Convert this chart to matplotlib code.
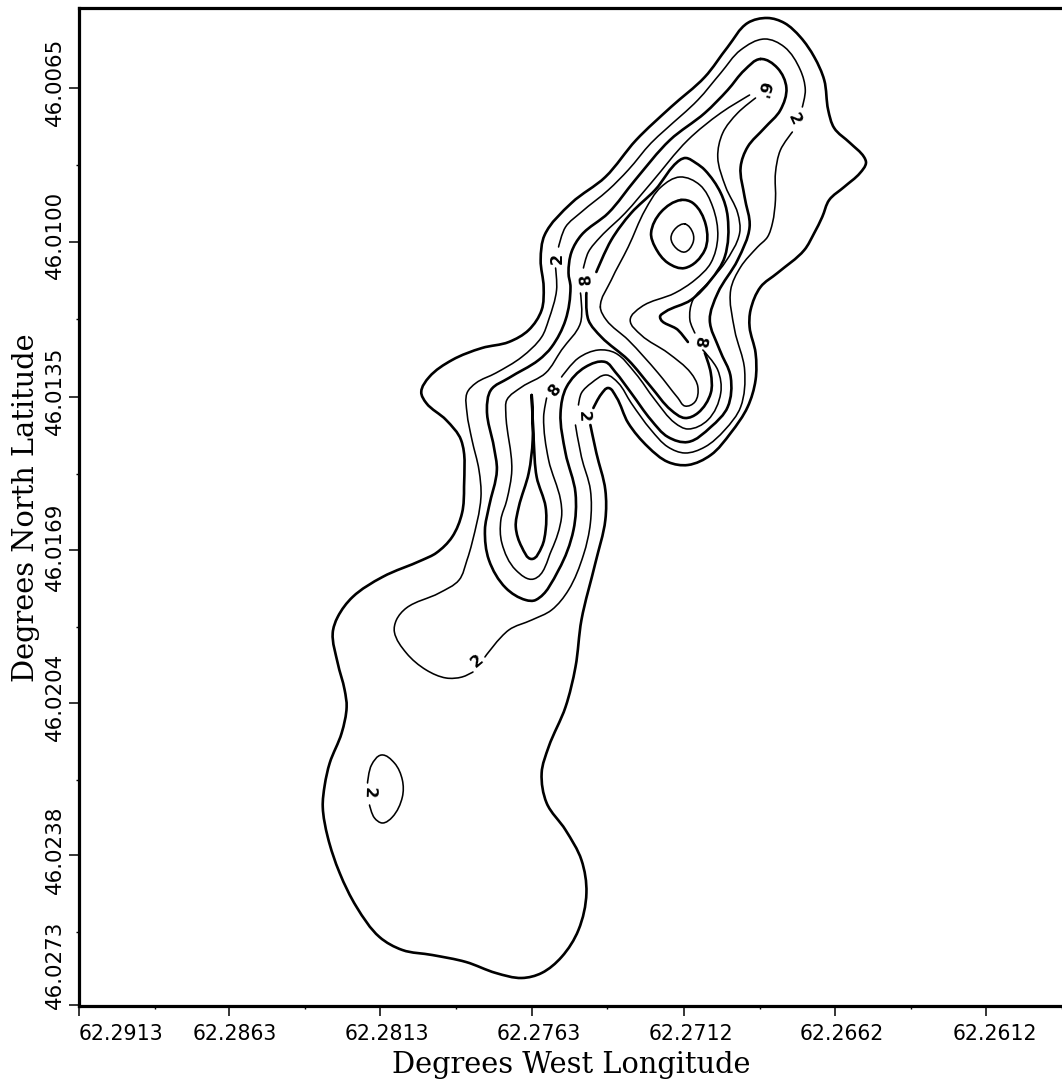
import numpy as np
import matplotlib
matplotlib.use("Agg")
import matplotlib.pyplot as plt
from matplotlib.path import Path
from matplotlib.patches import PathPatch
from matplotlib.transforms import ScaledTranslation

# Tick labels
lon_labels = ["62.2913", "62.2863", "62.2813", "62.2763", "62.2712", "62.2662", "62.2612"]
lat_labels = ["46.0065", "46.0100", "46.0135", "46.0169", "46.0204", "46.0238", "46.0273"]
lon_ticks_sheet = [78, 229, 381, 533, 686, 838, 990]
lat_ticks_sheet = [88, 242, 397, 550, 703, 855, 1005]

outer = [(592,425),(598,453),(607,490),(607,520),(597,563),(583,620),(577,667),(567,707),(550,747),(543,773),(548,803),(567,830),(583,860),(588,893),(580,930),(563,957),(543,973),(523,978),(497,973),(467,962),(433,955),(403,950),(380,937),(357,907),(340,873),(328,837),(323,807),(325,785),(330,763),(342,733),(347,707),(345,690),(338,663),(333,633),(338,617),(353,597),(383,577),(423,560),(437,553),(453,537),(463,513),(465,487),(462,440),(447,420),(427,403),(422,392),(430,377),(453,360),(483,348),(510,342),(530,330),(543,310),(545,287),(542,260),(546,235),(573,203),(607,177),(638,140),(673,107),(707,77),(730,47),(750,23),(770,18),(787,23),(803,37),(817,57),(827,80),(831,110),(837,128),(853,143),(867,157),(869,163),(863,173),(847,187),(832,200),(825,217),(817,233),(807,250),(780,273),(763,287),(753,310),(752,327),(758,353),(758,380),(750,407),(733,433),(713,455),(690,465),(670,462),(650,447),(630,423),(618,397),(610,388),(603,394),(595,408)]
two_a = [(560,247),(567,227),(583,212),(610,190),(630,170),(653,143),(667,130),(700,100),(723,73),(743,50),(767,39),(787,47),(803,70),(808,90),(805,107)]
two_b = [(795,132),(783,150),(778,173),(778,200),(775,223),(770,237),(760,247),(743,267),(733,290),(737,330),(747,370),(743,407),(727,430),(707,447),(687,453),(670,447),(653,430),(633,403),(620,383),(608,375),(593,383),(583,393),(580,405)]
two_c = [(577,425),(583,457),(592,490),(592,523),(585,555),(570,590),(553,610),(533,620),(510,630),(486,657)]
two_d = [(474,672),(463,677),(447,678),(427,670),(407,653),(395,632),(397,620),(407,608),(440,593),(460,580),(468,560),(473,543),(482,497),(480,470),(473,440),(468,413),(468,393),(477,383),(497,373),(523,357),(543,337),(550,320),(558,290),(557,268)]
four = [(763,59),(780,68),(789,88),(783,110),(767,128),(750,147),(743,167),(747,197),(752,227),(740,260),(720,293),(712,320),(722,350),(733,377),(730,407),(713,427),(690,442),(670,437),(653,420),(633,393),(617,372),(607,362),(587,367),(568,387),(562,413),(567,453),(577,493),(575,530),(560,570),(537,600),(527,600),(507,588),(490,560),(486,530),(490,507),(498,470),(495,447),(488,410),(492,390),(510,378),(540,360),(553,347),(567,320),(572,287),(570,273),(573,252),(583,235),(610,213),(637,180),(672,140),(707,113),(730,90),(747,70)]
six_a = [(585,268),(590,252),(602,237),(627,213),(653,183),(690,140),(723,113),(752,95)]
six_b = [(758,98),(740,113),(725,133),(720,157),(728,187),(740,213),(742,233),(727,263),(710,283),(695,300),(692,320),(697,333)]
six_c = [(705,350),(720,370),(723,393),(710,420),(690,429),(677,423),(657,400),(637,373),(617,353),(600,350),(580,358),(563,377)]
six_d = [(548,398),(545,417),(550,460),(562,500),(563,517),(553,550),(535,579),(517,570),(503,543),(502,520),(508,500),(513,470),(507,413),(508,400),(523,387),(547,373),(563,350),(582,323),(582,293)]
eight_a = [(598,272),(613,240),(633,213),(657,190),(682,160),(688,158),(698,163),(707,170),(723,193),(730,217),(727,257),(713,280),(693,300),(667,312),(662,317),(680,330),(690,342)]
eight_b = [(707,353),(713,373),(713,393),(700,413),(687,418),(673,410),(653,387),(630,360),(603,337),(590,320),(588,293)]
ten = [(602,307),(608,320),(630,340),(660,373),(680,398),(687,406),(697,402),(700,387),(693,373),(670,353),(643,335),(632,320),(643,307),(677,293),(697,280),(713,263),(720,237),(715,207),(702,185),(682,177),(663,187),(647,210),(630,247),(613,280)]
twelve = [(683,200),(695,203),(708,225),(707,250),(687,268),(670,263),(657,247),(653,233),(663,212)]
fourteen = [(687,224),(695,233),(695,243),(687,252),(678,248),(673,238),(678,228)]
teardrop = [(533,395),(535,440),(538,477),(547,507),(547,530),(543,547),(533,559),(523,547),(517,527),(520,507),(530,473),(534,440),(533,395)]
low_loop = [(370,805),(375,818),(383,823),(393,817),(403,797),(403,780),(395,763),(382,755),(372,765),(368,783)]

thin_open = [two_a, two_b, two_c, two_d, six_a, six_b, six_c, six_d, low_loop]
thick_open = [outer, eight_a, eight_b, teardrop]
thin_closed = [ten, fourteen]
thick_closed = [four, twelve]

# Inline contour labels: text, sheet x, sheet y, rotation
contour_labels = [("2",559,258,90),("8",588,279,95),("2",797,119,-65),("6'",765,90,-105),
                  ("8",702,342,-100),("8",557,390,50),("2",585,416,-88),("2",478,661,40),("2",370,793,-92)]

LON0, LAT0 = 62.2913, 46.0065
def lon(x):
    return LON0 - (np.asarray(x, float) - 78) * 0.0050 / 152.0
def lat(y):
    return LAT0 + (np.asarray(y, float) - 88) * 0.0035 / 153.4

W, H = 1062, 1085
fig = plt.figure(figsize=(W/100, H/100), dpi=100, facecolor="white")
L, R, T, B = 79, 1062, 8, 1006
ax = fig.add_axes([L/W, 1-B/H, (R-L)/W, (B-T)/H])
ax.set_xlim(lon(L), lon(R))
ax.set_ylim(lat(B), lat(T))

def draw(points, lw, closed=False):
    p = np.array(points, float)
    n = len(p)
    if closed:
        prev, nxt = np.roll(p, 1, axis=0), np.roll(p, -1, axis=0)
    else:
        prev = np.vstack([p[0], p[:-1]])
        nxt = np.vstack([p[1:], p[-1]])
    d0 = np.hypot(*(p - prev).T)
    d1 = np.hypot(*(nxt - p).T)
    # chord-weighted tangents keep unevenly spaced readings smooth
    w0, w1 = np.sqrt(d0), np.sqrt(d1)
    tan = ((nxt - p) * (w0 / np.maximum(w1, 1e-9))[:, None] + (p - prev) * (w1 / np.maximum(w0, 1e-9))[:, None])
    tan = tan / np.maximum(w0 + w1, 1e-9)[:, None]
    verts, codes = [p[0]], [Path.MOVETO]
    segs = n if closed else n - 1
    for i in range(segs):
        j = (i + 1) % n
        d = np.hypot(*(p[j] - p[i]))
        ti = tan[i] / max(np.hypot(*tan[i]), 1e-9)
        tj = tan[j] / max(np.hypot(*tan[j]), 1e-9)
        verts += [p[i] + ti * d / 3, p[j] - tj * d / 3, p[j]]
        codes += [Path.CURVE4] * 3
    verts = np.array(verts)
    verts = np.column_stack([lon(verts[:, 0]), lat(verts[:, 1])])
    ax.add_patch(PathPatch(Path(verts, codes), fc="none", ec="black", lw=lw, capstyle="round", joinstyle="round"))

for c in thin_open:
    draw(c, 1.15)
for c in thick_open:
    draw(c, 1.9)
for c in thin_closed:
    draw(c, 1.15, True)
for c in thick_closed:
    draw(c, 1.9, True)

for txt, x, y, rot in contour_labels:
    ax.text(lon(x), lat(y), txt, rotation=rot, rotation_mode="anchor", ha="center", va="center",
            fontsize=11.5, fontfamily="DejaVu Sans", fontweight="bold", color="black")

for s in ("left", "top", "bottom"):
    ax.spines[s].set_linewidth(2.3)
ax.spines["right"].set_visible(False)

ax.set_xticks(lon(lon_ticks_sheet))
ax.set_xticklabels(lon_labels, fontsize=14.8, fontfamily="DejaVu Sans")
ax.set_yticks(lat(lat_ticks_sheet))
ax.set_yticklabels(lat_labels, fontsize=15.4, fontfamily="DejaVu Sans", rotation=90, va="center")
ax.set_xticks(lon(np.array(lon_ticks_sheet) + 76), minor=True)
ax.set_yticks(lat(np.array(lat_ticks_sheet[:-1]) + 76.5), minor=True)
ax.tick_params(axis="x", which="major", length=7, width=1.1, pad=6)
ax.tick_params(axis="y", which="major", length=7, width=1.1, pad=3)
ax.tick_params(axis="both", which="minor", length=2.5, width=1.0)

px = 1/100
x_off = [42, 6, 6, 7, 7, 7, 8]
for lab, dx in zip(ax.get_xticklabels(), x_off):
    lab.set_transform(lab.get_transform() + ScaledTranslation(dx*px, 0, fig.dpi_scale_trans))
y_off = [6, 7, 6, 3, 6, 5, 40]
for lab, dy in zip(ax.get_yticklabels(), y_off):
    lab.set_transform(lab.get_transform() + ScaledTranslation(0, dy*px, fig.dpi_scale_trans))

fig.text(571/W, 1-1065/H, "Degrees West Longitude", ha="center", va="center",
         fontsize=20.8, fontfamily="DejaVu Serif", color="black")
fig.text(26/W, 1-508/H, "Degrees North Latitude", ha="center", va="center", rotation=90,
         fontsize=20.8, fontfamily="DejaVu Serif", color="black")

fig.savefig("out.png", dpi=100, facecolor="white")
